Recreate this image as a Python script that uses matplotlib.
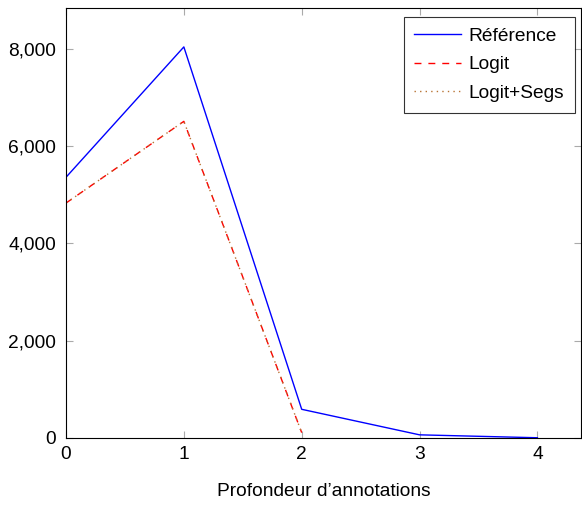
import matplotlib
matplotlib.use("Agg")
import matplotlib.pyplot as plt
from matplotlib.ticker import FuncFormatter, MultipleLocator

plt.rcParams['font.family'] = ['Liberation Sans', 'DejaVu Sans']

depth = [0, 1, 2, 3, 4]
reference = [5360, 8040, 590, 65, 5]
depth_logit = [0, 1, 2]
logit = [4830, 6510, 110]
logit_segs = [4830, 6510, 110]

fig = plt.figure(figsize=(5.82, 5.05), dpi=100)
ax = fig.add_axes([66/582, (505-438)/505, (581-66)/582, (438-8)/505])

ax.plot(depth, reference, color='blue', lw=1.0, label='Référence')
ax.plot(depth_logit, logit, color='red', lw=1.0, ls=(0, (5, 5)), label='Logit')
ax.plot(depth_logit, logit_segs, color='#b87333', lw=1.0, ls=(0, (1, 3)), label='Logit+Segs')

ax.set_xlim(0, 4.37)
ax.set_ylim(0, 8840)
ax.xaxis.set_major_locator(MultipleLocator(1))
ax.yaxis.set_major_locator(MultipleLocator(2000))
ax.yaxis.set_major_formatter(FuncFormatter(lambda v, p: f"{int(v):,}"))
ax.tick_params(direction='in', length=5, color='#aaaaaa', width=0.8,
               top=True, right=True, labelsize=13.8)
ax.tick_params(axis='x', pad=6)
ax.tick_params(axis='y', pad=7)
for s in ax.spines.values():
    s.set_linewidth(0.8)
ax.set_xlabel('Profondeur d’annotations', fontsize=13.8, labelpad=14)

leg = ax.legend(loc='upper right', bbox_to_anchor=(575/582, (505-17)/505),
                bbox_transform=fig.transFigure, borderaxespad=0,
                fontsize=13.8, frameon=True, fancybox=False,
                edgecolor='black', handlelength=2.45,
                labelspacing=0.58, handletextpad=0.4, borderpad=0.55)
leg.get_frame().set_linewidth(0.8)

fig.savefig('out.png', dpi=100)
